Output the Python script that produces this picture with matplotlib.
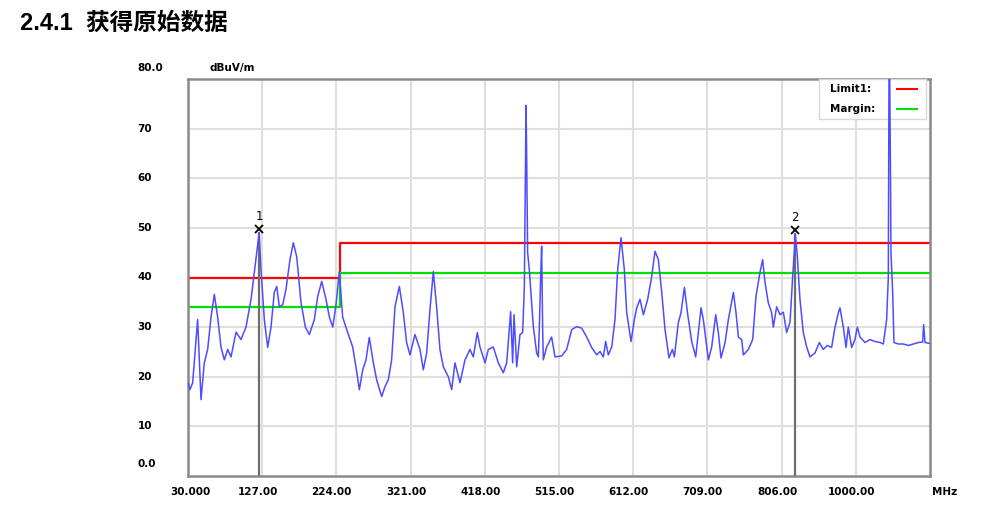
import matplotlib.pyplot as plt
from matplotlib.lines import Line2D
from matplotlib.patches import Rectangle

plt.rcParams['font.family'] = ['Noto Sans CJK SC', 'DejaVu Sans']

title = "2.4.1  获得原始数据"

# trace (MHz, dBuV/m)
freq = [30, 32.6, 36.1, 42.6, 44.8, 47, 51.3, 55.7, 60.1, 64.4, 68.8, 73.1, 77.5,
        81.9, 86.2, 92.8, 99.3, 105.8, 112.4, 116.7, 123, 125.4, 129.8, 134.2,
        138.5, 142.8, 146, 149.4, 153.8, 158.1, 163.3, 167.7, 172.1, 177.7,
        183.4, 188.6, 195.1, 199.6, 204.8, 210.4, 214.7, 219.2, 223.5, 227.8,
        232.2, 238.8, 245.3, 249.6, 254, 258.4, 262.7, 267, 272.3, 276.6, 283.2,
        287.5, 291.9, 296.2, 300.6, 306.3, 311.5, 315.8, 320.2, 326.7, 333.3,
        337.6, 342, 346.3, 350.7, 355, 359.4, 363.8, 370.3, 374.7, 379, 385.6,
        392.1, 398.6, 403, 408.2, 411.7, 418.3, 422.6, 429.1, 435.7, 442.2,
        446.6, 451.8, 454.4, 456.2, 459.7, 464, 467.5, 469.7, 471, 471.9, 472.7,
        474, 476.2, 481.4, 485.8, 488, 489.3, 491, 492.3, 493.6, 494.5, 498.9,
        505.4, 509.8, 518.5, 525, 531.6, 538.1, 544.7, 551.2, 557.7, 564.3,
        568.6, 573, 576, 579.5, 583.9, 588.2, 591.7, 596.1, 600.4, 603.5, 609.2,
        613.5, 616.6, 620.9, 625.3, 630.9, 636.2, 640.5, 644.9, 649.3, 653.6,
        658.8, 663.2, 665.8, 671, 674.5, 678.9, 683.3, 688.5, 693.7, 700.7,
        703.7, 710.3, 714.6, 719.9, 723.3, 726.8, 732.1, 736.4, 743, 746.4,
        749.5, 753.8, 756, 762.5, 768.2, 772.5, 777.7, 781.2, 784.3, 788.6, 793,
        795.2, 799.5, 803.9, 808.3, 812.6, 817, 820.5, 824, 826.6, 830, 834.4,
        838.8, 843.1, 849.7, 855.3, 860.5, 865.8, 871.4, 875.8, 880.2, 882.3,
        886.7, 890.2, 893.2, 897.6, 901.9, 905, 908.5, 915, 921.6, 928.1, 934.6,
        939, 943.3, 945.5, 946.4, 947.3, 948.2, 949, 951.2, 952.9, 958.6, 965.1,
        971.7, 978.2, 984.8, 990.4, 991.7, 993.5, 1000]
level = [18.8, 17.4, 18.8, 31.5, 23.4, 15.4, 22.8, 25.5, 32, 36.6, 32, 26, 23.4,
         25.5, 24, 29, 27.5, 30, 35.6, 41, 49, 41.6, 31.5, 25.9,
         30, 37, 38.2, 34.1, 34.5, 37.6, 43.6, 47, 44.2, 35,
         30, 28.5, 31.5, 36.2, 39.2, 35.6, 32.1, 30, 34.5, 41.2,
         32, 28.9, 26, 22, 17.4, 21.4, 23.4, 27.9, 22.8, 19.4, 16,
         18, 19.4, 23.4, 34.1, 38.2, 32.9, 26.9, 24.4, 28.5, 25.5,
         21.4, 24.8, 33.5, 41.2, 34.1, 25.5, 22, 20, 17.4, 22.8, 18.8,
         23.4, 25.5, 24, 28.9, 26, 22.8, 25.5, 26, 22.8, 20.8,
         22.8, 33.1, 22.8, 32.5, 22, 28.5, 28.9, 38.2, 60, 74.7, 65,
         45, 41.5, 30.2, 24.8, 24, 30, 40, 46.3, 30, 23.4, 26,
         28, 24, 24.2, 25.5, 29.5, 30.1, 29.8, 28, 25.9, 24.4,
         25.1, 24, 27.1, 24.4, 26, 31.5, 41.6, 48, 41.6, 32.9, 27.1,
         31.5, 33.9, 35.6, 32.5, 35.6, 40.2, 45.3, 43.6, 37, 29.5,
         23.8, 25.5, 24, 30.9, 32.9, 38, 32.5, 27.1, 24, 33.9,
         31.5, 23.4, 26, 32.5, 28.9, 23.8, 26.9, 31.5, 37, 32.9,
         28, 27.5, 24.4, 25.5, 27.5, 36.2, 41, 43.6, 39, 34.9, 32.9,
         30, 34.1, 32.5, 33, 28.9, 31, 40.2, 48.7, 44.2, 35.6, 28.9,
         26, 24, 24.8, 26.9, 25.5, 26.3, 25.9, 30, 32.9, 33.9,
         30, 25.9, 30, 25.9, 27.5, 30, 28, 26.9, 27.5, 27.1, 26.9,
         26.6, 31.5, 40, 81, 81, 64, 45, 37, 26.9, 26.6, 26.6,
         26.3, 26.6, 26.9, 27, 30.5, 26.9, 26.7]

limit_freq = [30, 229, 1000]
limit_level = [40, 47, 47]
margin_level = [34, 41, 41]

marker_freq = [123, 824]
marker_level = [49, 48.7]
marker_names = ["1", "2"]

grid_freq = [127, 224, 321, 418, 515, 612, 709, 806, 903]
xtick_labels = ["30.000", "127.00", "224.00", "321.00", "418.00", "515.00",
                "612.00", "709.00", "806.00", "1000.00"]
xtick_pos = [30] + grid_freq
ytick_vals = [10, 20, 30, 40, 50, 60, 70]

fig = plt.figure(figsize=(9.88, 5.24), dpi=100)
fig.text(20 / 988, 1 - 23 / 524, title, fontsize=17, fontweight='bold', va='center',
         family=['Liberation Sans', 'Noto Sans CJK SC'])

ax = fig.add_axes([188 / 988, 1 - 476 / 524, 742 / 988, 397 / 524])
ax.set_xlim(30, 1000)
ax.set_ylim(0, 80)
for f in grid_freq:
    ax.axvline(f, color='#e2dfda', lw=1.5, zorder=0)
for v in ytick_vals:
    ax.axhline(v, color='#e2dfda', lw=1.5, zorder=0)

ax.step(limit_freq, limit_level, where='post', color='#ff0000', lw=1.6, zorder=2)
ax.step(limit_freq, margin_level, where='post', color='#00e000', lw=1.6, zorder=2)
ax.plot(freq, level, color='#4d4dff', lw=1.1, zorder=8)

for f, v, n in zip(marker_freq, marker_level, marker_names):
    ax.plot([f, f], [0, v], color='#6e6e6e', lw=1.6, zorder=4)
    ax.plot(f, v + 0.8, marker='x', color='black', ms=6, mew=1.3, zorder=9)
    ax.text(f, v + 2.0, n, ha='center', va='bottom', fontsize=8.5,
            family=['DejaVu Sans'], zorder=9)

ax.set_xticks([])
ax.set_yticks([])
for s in ax.spines.values():
    s.set_color('#8a8a8a')
    s.set_linewidth(1.8)

lab = dict(fontsize=7.5, fontweight='bold', family=['DejaVu Sans'])
for f, t in zip(xtick_pos, xtick_labels):
    x = f if f > 30 else 39
    ax.text(x - 6, -2.2, t, ha='center', va='top', **lab)
ax.text(1003, -2.2, "MHz", ha='left', va='top', **lab)
ylab_x = -36
for v in ytick_vals:
    ax.text(ylab_x, v, str(v), ha='left', va='center', **lab)
ax.text(ylab_x, 2.4, "0.0", ha='left', va='center', **lab)
ax.text(ylab_x, 82.2, "80.0", ha='left', va='center', **lab)
ax.text(58, 82.2, "dBuV/m", ha='left', va='center', **lab)

# legend box in upper right
ax.add_patch(Rectangle((0.851, 0.9), 0.143, 0.1, transform=ax.transAxes,
                       facecolor='white', edgecolor='#d8d8d8', lw=1, zorder=6))
ax.text(0.865, 0.975, "Limit1:", transform=ax.transAxes, va='center', zorder=7, **lab)
ax.text(0.865, 0.925, "Margin:", transform=ax.transAxes, va='center', zorder=7, **lab)
ax.add_line(Line2D([0.955, 0.983], [0.975, 0.975], transform=ax.transAxes,
                   color='#ff0000', lw=1.5, zorder=7))
ax.add_line(Line2D([0.955, 0.983], [0.925, 0.925], transform=ax.transAxes,
                   color='#00e000', lw=1.5, zorder=7))

fig.savefig("out.png", dpi=100)
